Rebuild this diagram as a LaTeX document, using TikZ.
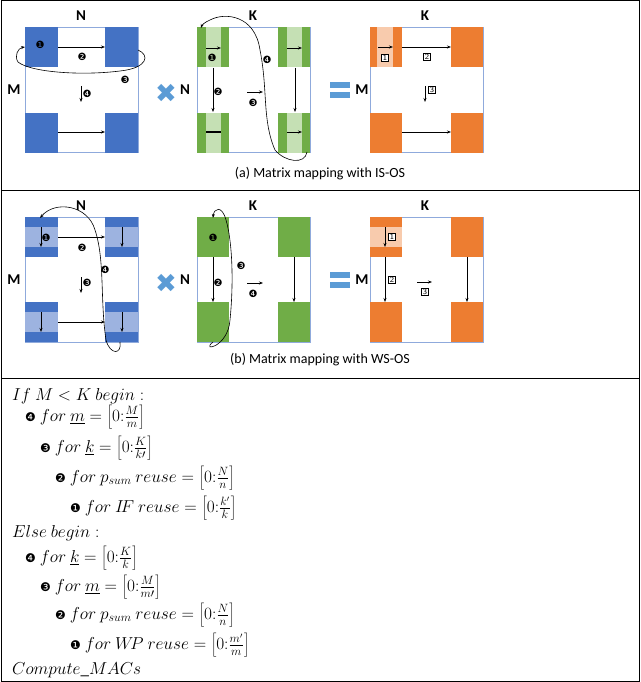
\documentclass[tikz,border=0pt]{standalone}
\usepackage{fontspec}
\setmainfont{Carlito}
\newfontfamily\dv{DejaVu Sans}
\usetikzlibrary{arrows.meta}
\definecolor{bl}{HTML}{4472C4}\definecolor{lbl}{HTML}{9DB3E0}
\definecolor{gr}{HTML}{70AD47}\definecolor{lgr}{HTML}{C5E0B4}
\definecolor{orx}{HTML}{ED7D31}\definecolor{lor}{HTML}{F8CBAD}
\definecolor{sym}{HTML}{5B9BD5}\definecolor{frm}{HTML}{8FAADC}
\newcommand\cc[1]{{\dv\fontsize{12}{12}\selectfont #1}}
\tikzset{
 mat/.style={draw=frm,line width=0.8pt},
 ar/.style={-{Stealth[length=4pt,width=3pt]},line width=0.7pt},
 lp/.style={-{Stealth[length=4pt,width=3pt]},line width=0.6pt},
 cn/.style={font=\dv\fontsize{10}{10}\selectfont,inner sep=0pt},
 bn/.style={draw,line width=0.8pt,font=\sffamily\fontsize{8}{8}\selectfont,inner sep=1pt,fill=white},
 lab/.style={font=\bfseries\fontsize{15}{15}\selectfont},
 captext/.style={font=\fontsize{14}{14}\selectfont},
 tx/.style={anchor=west,font=\fontsize{17}{19}\selectfont,inner sep=0pt}
}
\begin{document}
\begin{tikzpicture}[x=1pt,y=-1pt]
\useasboundingbox (0,0) rectangle (640,682);
\draw[line width=1pt] (1,1) rectangle (639,681);
\draw[line width=1pt] (1,190) -- (639,190) (1,378) -- (639,378);
% ===== panel a =====
\draw[mat] (25,27) rectangle (138,152);
\foreach \x in {25,105}\foreach \y in {27,113}{\fill[bl] (\x,\y) rectangle ++(33,40);}
\node[lab] (na) at (81,16) {N};\node[lab] (ma) at (14,90) {M};
\node[cn] at (40,45) {❶};
\draw[ar] (58,47) -- (105,47);\node[cn] at (82,57) {❷};
\draw[lp] (138,50) .. controls (150,55) and (148,68) .. (120,71) .. controls (80,76) and (30,72) .. (18,62) .. controls (14,56) and (18,48) .. (25,47);
\node[cn] at (125,80) {❸};
\draw[ar] (81,86) -- (81,102);\node[cn] at (87,94) {❹};
\draw[ar] (58,132) -- (105,132);
\node[text=sym,font=\dv\bfseries\fontsize{26}{26}\selectfont] (xa) at (166,93) {✖};
\draw[mat] (197,27) rectangle (310,152);
\foreach \x in {197,278}\foreach \y in {27,113}{\fill[gr] (\x,\y) rectangle ++(32,40);\fill[lgr] (\x+9,\y) rectangle ++(15,40);}
\node[lab] (ka) at (253,16) {K};\node[lab] (nb) at (185,90) {N};
\draw[ar] (206,48) -- (221,48);\node[cn] at (212,58) {❶};
\draw[ar] (287,48) -- (302,48);
\draw[ar] (287,132) -- (302,132);\draw[line width=1.2pt] (206,132)--(221,132);
\draw[ar] (213,68) -- (213,112);\node[cn] at (218,92) {❷};
\draw[ar] (295,68) -- (295,112);
\draw[ar] (247,92) -- (263,92);\node[cn] at (253,103) {❸};
\draw[lp] (307,152) .. controls (305,165) and (285,162) .. (275,150) .. controls (262,120) and (268,90) .. (260,50) .. controls (255,15) and (225,12) .. (210,20) .. controls (205,22) and (202,25) .. (201,28);
\node[cn] at (267,60) {❹};
\node[text=sym] at (340,90) {\tikz[x=1pt,y=1pt]{\fill (0,0) rectangle (20,6);\fill (0,-10) rectangle (20,-4);}};
\draw[mat] (370,27) rectangle (483,152);
\foreach \x in {370,451}\foreach \y in {27,113}{\fill[orx] (\x,\y) rectangle ++(32,40);}
\fill[lor] (377,27) rectangle (393,67);
\node[lab] (kb) at (425,16) {K};\node[lab] (mb) at (362,90) {M};
\draw[ar] (378,47) -- (393,47);\node[bn] at (385,58) {1};
\draw[ar] (402,47) -- (451,47);\node[bn] at (427,57) {2};
\draw[ar] (425,86) -- (425,102);\node[bn] at (432,90) {3};
\draw[ar] (402,132) -- (451,132);
\node[captext] (ca) at (320,174) {(a) Matrix mapping with IS-OS};
% ===== panel b =====
\draw[mat] (25,217) rectangle (138,342);
\foreach \x in {25,105}\foreach \y in {217,302}{\fill[bl] (\x,\y) rectangle ++(33,40);\fill[lbl] (\x,\y+10) rectangle ++(33,20);}
\node[lab] (nc) at (81,206) {N};\node[lab] (mc) at (14,280) {M};
\foreach \x in {41,122}{\draw[ar] (\x,227) -- (\x,247);\draw[ar] (\x,312) -- (\x,332);}
\node[cn] at (46,238) {❶};
\draw[ar] (58,237) -- (105,237);\node[cn] at (82,248) {❷};
\draw[ar] (81,277) -- (81,293);\node[cn] at (87,283) {❸};
\draw[ar] (58,322) -- (105,322);
\draw[lp] (120,342) .. controls (122,355) and (110,355) .. (106,340) .. controls (100,300) and (105,260) .. (95,230) .. controls (88,205) and (55,200) .. (40,218);
\node[cn] at (105,270) {❹};
\node[text=sym,font=\dv\bfseries\fontsize{26}{26}\selectfont] at (166,283) {✖};
\draw[mat] (197,217) rectangle (310,342);
\foreach \x in {197,278}\foreach \y in {217,302}{\fill[gr] (\x,\y) rectangle ++(32,40);}
\node[lab] (kc) at (253,206) {K};\node[lab] (nd) at (185,280) {N};
\node[cn] at (213,238) {❶};
\draw[ar] (213,257) -- (213,302);\node[cn] at (218,283) {❷};
\draw[ar] (294,257) -- (294,302);
\draw[ar] (247,283) -- (263,283);\node[cn] at (253,294) {❹};
\draw[lp] (213,342) .. controls (200,352) and (228,348) .. (230,320) .. controls (234,280) and (232,240) .. (226,220) .. controls (222,205) and (214,208) .. (213,218);
\node[cn] at (241,266) {❸};
\node[text=sym] at (340,280) {\tikz[x=1pt,y=1pt]{\fill (0,0) rectangle (20,6);\fill (0,-10) rectangle (20,-4);}};
\draw[mat] (370,217) rectangle (483,342);
\foreach \x in {370,451}\foreach \y in {217,302}{\fill[orx] (\x,\y) rectangle ++(32,40);}
\fill[lor] (370,227) rectangle (402,247);
\node[lab] (kd) at (425,206) {K};\node[lab] (md) at (362,280) {M};
\draw[ar] (385,227) -- (385,247);\node[bn] at (392,237) {1};
\draw[ar] (385,257) -- (385,302);\node[bn] at (392,280) {2};
\draw[ar] (417,282) -- (432,282);\node[bn] at (425,292) {3};
\draw[ar] (467,257) -- (467,302);
\node[captext] (cb) at (320,360) {(b) Matrix mapping with WS-OS};
% ===== text =====
\node[tx] (t1) at (12,396) {$If\ M<K\ begin:$};
\node[tx] (t2) at (25,417) {\cc{❹} $for\ \underline{m}=\left[0{:}\frac{M}{m}\right]$};
\node[tx] (t3) at (40,448) {\cc{❸} $for\ \underline{k}=\left[0{:}\frac{K}{k\prime}\right]$};
\node[tx] (t4) at (55,478) {\cc{❷} $for\ p_{sum}\ reuse=\left[0{:}\frac{N}{n}\right]$};
\node[tx] (t5) at (70,508) {\cc{❶} $for\ I\!F\ reuse=\left[0{:}\frac{k'}{k}\right]$};
\node[tx] (t6) at (12,533) {$Else\ begin:$};
\node[tx] (t7) at (25,558) {\cc{❹} $for\ \underline{k}=\left[0{:}\frac{K}{k}\right]$};
\node[tx] (t8) at (40,587) {\cc{❸} $for\ \underline{m}=\left[0{:}\frac{M}{m\prime}\right]$};
\node[tx] (t9) at (55,615) {\cc{❷} $for\ p_{sum}\ reuse=\left[0{:}\frac{N}{n}\right]$};
\node[tx] (t10) at (70,645) {\cc{❶} $for\ W\!P\ reuse=\left[0{:}\frac{m'}{m}\right]$};
\node[tx] (t11) at (12,670) {$Compute\_MACs$};
\end{tikzpicture}
\end{document}
